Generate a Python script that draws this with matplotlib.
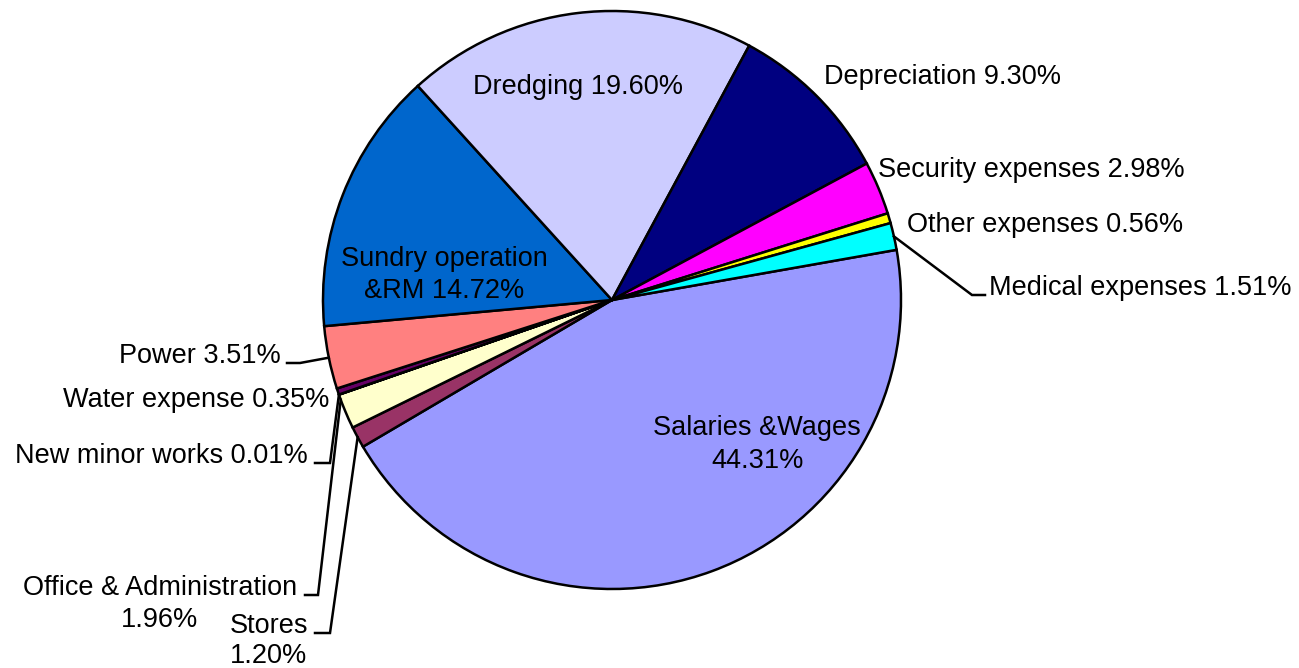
import numpy as np
import matplotlib
matplotlib.use("Agg")
import matplotlib.pyplot as plt

# ---- data ----
categories = ["Salaries &Wages", "Stores", "Office & Administration", "New minor works",
              "Water expense", "Power", "Sundry operation &RM", "Dredging",
              "Depreciation", "Security expenses", "Other expenses", "Medical expenses"]
values = [44.31, 1.20, 1.96, 0.01, 0.35, 3.51, 14.72, 19.60, 9.30, 2.98, 0.56, 1.51]
colors = ["#9999FF", "#993366", "#FFFFCC", "#CCFFFF", "#660066", "#FF8080",
          "#0066CC", "#CCCCFF", "#000080", "#FF00FF", "#FFFF00", "#00FFFF"]

W, H = 1299, 668
fig = plt.figure(figsize=(W / 100, H / 100), dpi=100)
ax = fig.add_axes([0, 0, 1, 1])

CX, CY, R = 612, 300, 289  # image-pixel coordinates (y down)
wedges, _ = ax.pie(values, colors=colors, startangle=10, counterclock=False,
                   center=(CX, H - CY), radius=R,
                   wedgeprops=dict(edgecolor="black", linewidth=1.8))
ax.set_xlim(0, W)
ax.set_ylim(0, H)
ax.set_aspect("equal")
ax.axis("off")

plt.rcParams["font.family"] = ["Liberation Sans", "DejaVu Sans"]
FS = 19.5

def lbl(i):
    return f"{values[i]:.2f}%"

# label layout: index -> list of (text, x, baseline_y, ha)
layout = {
    0: [(categories[0], 757, 435, "center"), (lbl(0), 758, 468, "center")],
    1: [("Stores", 269, 633, "center"), (lbl(1), 269, 663, "center")],
    2: [("Office & Administration", 160, 595, "center"), (lbl(2), 160, 627, "center")],
    3: [(f"{categories[3]} {lbl(3)}", 308, 463, "right")],
    4: [(f"{categories[4]} {lbl(4)}", 329, 407, "right")],
    5: [(f"{categories[5]} {lbl(5)}", 281, 363, "right")],
    6: [("Sundry operation", 444, 266, "center"), (f"&RM {lbl(6)}", 444, 298, "center")],
    7: [(f"{categories[7]} {lbl(7)}", 578, 94, "center")],
    8: [(f"{categories[8]} {lbl(8)}", 824, 84, "left")],
    9: [(f"{categories[9]} {lbl(9)}", 878, 177, "left")],
    10: [(f"{categories[10]} {lbl(10)}", 907, 232, "left")],
    11: [(f"{categories[11]} {lbl(11)}", 989, 295, "left")],
}
for i, lines in layout.items():
    for (t, x, y, ha) in lines:
        ax.text(x, H - y, t, ha=ha, va="baseline", fontsize=FS, color="black")

# leader lines: index -> (two fixed points near the text, attach fraction on wedge)
leaders = {
    11: ([(985, 295), (972, 295)], 0.5),
    5: ([(287, 363), (300, 363)], 0.5),
    3: ([(315, 463), (330, 463)], 0.5),
    2: ([(305, 595), (318, 595)], 0.15),
    1: ([(315, 633), (330, 633)], 0.5),
}
for i, (pts, frac) in leaders.items():
    w = wedges[i]
    ang = np.deg2rad(w.theta1 + frac * (w.theta2 - w.theta1))
    rx = CX + R * np.cos(ang)
    ry = (H - CY) + R * np.sin(ang)
    xs = [p[0] for p in pts] + [rx]
    ys = [H - p[1] for p in pts] + [ry]
    ax.plot(xs, ys, color="black", linewidth=1.8, solid_joinstyle="miter")

fig.savefig("out.png", dpi=100)
